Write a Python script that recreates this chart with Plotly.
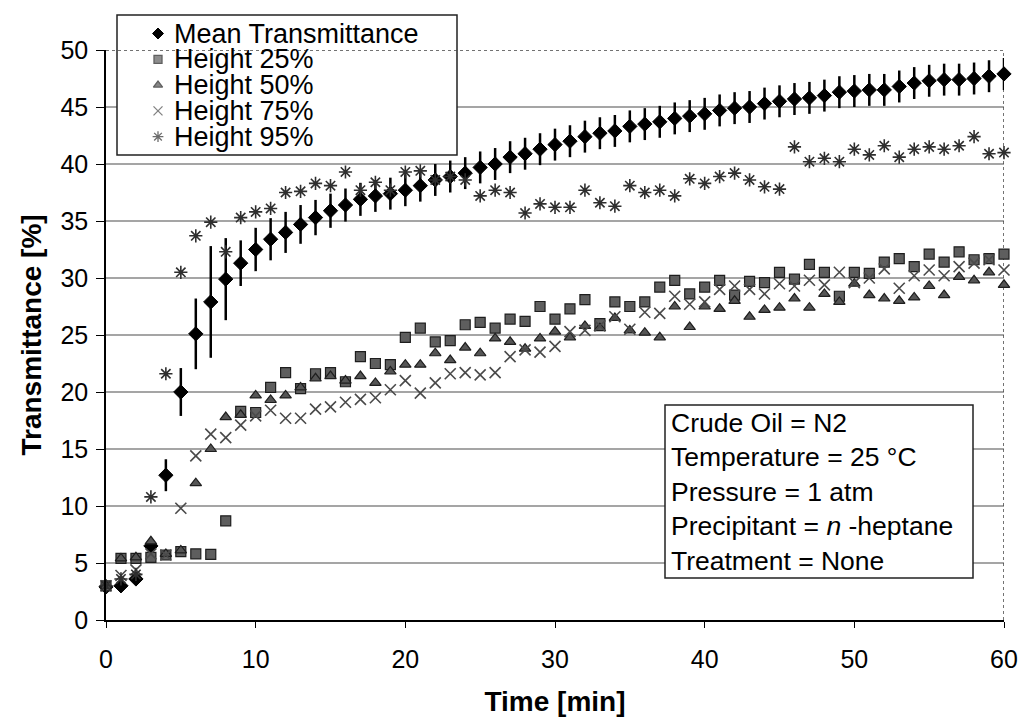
import plotly.graph_objects as go

# ---------------- data ----------------
time_min = list(range(61))

mean_trans = [2.9, 3.0, 3.6, 6.5, 12.7, 20.0, 25.1, 27.9, 29.9, 31.3,
              32.5, 33.4, 34.0, 34.7, 35.3, 35.9, 36.4, 36.9, 37.2, 37.4,
              37.7, 38.1, 38.6, 38.9, 39.2, 39.7, 40.0, 40.6, 40.9, 41.3,
              41.7, 42.0, 42.4, 42.7, 42.9, 43.3, 43.5, 43.7, 44.0, 44.2,
              44.4, 44.7, 44.9, 45.0, 45.3, 45.5, 45.7, 45.8, 46.0, 46.3,
              46.4, 46.5, 46.5, 46.8, 47.1, 47.3, 47.4, 47.4, 47.5, 47.7,
              47.9]

mean_err = [0.3, 0.3, 0.4, 0.7, 1.4, 2.1, 3.1, 4.9, 3.6, 2.0,
            1.9, 1.85, 1.8, 1.7, 1.55, 1.5, 1.45, 1.45, 1.4, 1.4,
            1.4, 1.4, 1.4, 1.4, 1.4, 1.4, 1.4, 1.4, 1.4, 1.4,
            1.4, 1.4, 1.4, 1.4, 1.4, 1.4, 1.4, 1.4, 1.4, 1.4,
            1.4, 1.4, 1.4, 1.4, 1.4, 1.4, 1.4, 1.4, 1.4, 1.4,
            1.4, 1.4, 1.4, 1.4, 1.4, 1.4, 1.4, 1.4, 1.4, 1.4,
            1.4]

height_25 = [3.0, 5.4, 5.4, 5.5, 5.7, 6.0, 5.8, 5.75, 8.7, 18.3,
             18.2, 20.4, 21.7, 20.3, 21.6, 21.7, 20.9, 23.1, 22.5, 22.4,
             24.8, 25.6, 24.4, 24.5, 25.9, 26.1, 25.6, 26.4, 26.2, 27.5,
             26.4, 27.3, 28.1, 26.0, 27.9, 27.5, 27.9, 29.2, 29.8, 28.6,
             29.2, 29.8, 28.5, 29.7, 29.6, 30.5, 29.9, 31.2, 30.5, 28.4,
             30.5, 30.4, 31.4, 31.7, 31.0, 32.1, 31.4, 32.3, 31.6, 31.7,
             32.1]

height_50 = [3.0, 5.4, 5.5, 6.9, 5.8, 6.1, 12.0, 15.0, 17.8, 18.0,
             19.7, 19.3, 19.7, 20.4, 21.2, 21.4, 21.0, 21.4, 20.8, 21.8,
             22.4, 22.4, 23.4, 22.8, 23.9, 23.4, 24.7, 24.4, 23.8, 24.7,
             25.3, 24.8, 25.8, 25.6, 26.5, 25.4, 25.2, 24.8, 27.5, 25.7,
             27.5, 27.3, 28.0, 26.6, 27.2, 27.4, 28.2, 27.4, 28.6, 27.9,
             29.5, 28.5, 28.2, 28.0, 28.3, 29.3, 28.5, 30.1, 29.8, 30.5,
             29.4]

height_75 = [3.0, 3.9, 4.4, 5.8, 5.7, 9.8, 14.4, 16.3, 16.0, 17.1,
             17.9, 18.4, 17.7, 17.7, 18.5, 18.7, 19.1, 19.35, 19.5, 20.2,
             21.0, 19.9, 20.8, 21.6, 21.7, 21.5, 21.7, 23.1, 23.7, 23.5,
             24.0, 25.3, 25.4, 25.8, 26.6, 25.5, 27.0, 26.9, 28.4, 27.7,
             27.9, 29.0, 29.3, 29.0, 28.6, 29.5, 29.3, 29.8, 29.4, 30.5,
             29.6, 30.0, 30.8, 29.1, 30.2, 30.7, 30.2, 31.0, 31.3, 31.6,
             30.7]

height_95 = [3.0, 3.6, 4.0, 10.8, 21.6, 30.5, 33.7, 34.9, 32.3, 35.3,
             35.8, 36.1, 37.5, 37.6, 38.3, 38.1, 39.3, 37.7, 38.4, 37.7,
             39.3, 39.4, 38.6, 38.9, 38.6, 37.2, 37.7, 37.5, 35.7, 36.5,
             36.2, 36.2, 37.7, 36.6, 36.3, 38.1, 37.5, 37.7, 37.2, 38.7,
             38.3, 38.9, 39.2, 38.6, 38.0, 37.8, 41.5, 40.2, 40.5, 40.2,
             41.3, 40.8, 41.6, 40.6, 41.3, 41.5, 41.3, 41.6, 42.4, 40.9,
             41.0]

legend_labels = ["Mean Transmittance", "Height 25%", "Height 50%",
                 "Height 75%", "Height 95%"]
info_lines = ["Crude Oil = N2", "Temperature = 25 °C", "Pressure = 1 atm",
              "Precipitant = <i>n</i> -heptane", "Treatment = None"]
y_ticks = [0, 5, 10, 15, 20, 25, 30, 35, 40, 45, 50]
x_ticks = [0, 10, 20, 30, 40, 50, 60]
x_range = [0, 60]
y_range = [0, 50]

# ---------------- layout helpers ----------------
W, H = 1022, 719
ML, MR, MT, MB = 106, 18, 50, 99
PW, PH = W - ML - MR, H - MT - MB
FONT = "Liberation Sans, Arial, sans-serif"


def fx(px):
    """page pixel -> paper x"""
    return (px - ML) / PW


def fy(py):
    """page pixel -> paper y"""
    return (H - MB - py) / PH


def dx(px):
    """page pixel -> x data units"""
    return x_range[0] + fx(px) * (x_range[1] - x_range[0])


styles = [
    dict(symbol="diamond", size=11, color="black", line=dict(color="black", width=1)),
    dict(symbol="square", size=10, color="#5e5e5e", line=dict(color="#1e1e1e", width=1.2)),
    dict(symbol="triangle-up", size=10, color="#555555", line=dict(color="#1e1e1e", width=1.2)),
    dict(symbol="x-thin-open", size=11, color="#4a4a4a", line=dict(color="#4a4a4a", width=1.6)),
    dict(symbol="asterisk-open", size=11, color="#2e2e2e", line=dict(color="#2e2e2e", width=1.6)),
]
series = [mean_trans, height_25, height_50, height_75, height_95]

fig = go.Figure()

# mean with error bars
fig.add_trace(go.Scatter(
    x=time_min, y=mean_trans, mode="markers", name=legend_labels[0],
    marker=styles[0], showlegend=False, cliponaxis=False,
    error_y=dict(type="data", array=mean_err, visible=True,
                 color="black", thickness=2.5, width=0)))

for lab, ys, st in zip(legend_labels[1:], series[1:], styles[1:]):
    fig.add_trace(go.Scatter(x=time_min, y=ys, mode="markers", name=lab,
                             marker=st, showlegend=False, cliponaxis=False))

# ---------------- manual legend ----------------
leg_x0, leg_x1, leg_y0, leg_y1 = 117, 457, 15, 155
row_y = [33.5 + 25.8 * i for i in range(5)]
leg_marker_px = 158
leg_text_px = 172

shapes = []
# horizontal gridlines
for v in y_ticks[1:-1]:
    shapes.append(dict(type="line", xref="paper", yref="y", x0=0, x1=1, y0=v, y1=v,
                       line=dict(color="#4d4d4d", width=1.2), layer="below"))
# dotted top and right border
shapes.append(dict(type="line", xref="x", yref="y", x0=x_range[0], x1=x_range[1],
                   y0=y_range[1], y1=y_range[1],
                   line=dict(color="#444", width=1.5, dash="dot"), layer="below"))
shapes.append(dict(type="line", xref="x", yref="y", x0=x_range[1], x1=x_range[1],
                   y0=y_range[0], y1=y_range[1],
                   line=dict(color="#444", width=1.5, dash="dot"), layer="below"))
# legend box (x in data units so it sits in the subplot layer, under the markers)
shapes.append(dict(type="rect", xref="x", yref="paper",
                   x0=dx(leg_x0), x1=dx(leg_x1), y0=fy(leg_y1), y1=fy(leg_y0),
                   fillcolor="white", line=dict(color="#222", width=1.5), layer="below"))
# info box
shapes.append(dict(type="rect", xref="x", yref="paper",
                   x0=dx(665), x1=dx(973), y0=fy(578), y1=fy(405),
                   fillcolor="white", line=dict(color="#222", width=1.5), layer="below"))
# legend diamond symbol for the first row (sits above the plot area)
hx, hy = 5.5 / PW, 5.5 / PH
cx, cy = fx(leg_marker_px), fy(row_y[0])
shapes.append(dict(type="path", xref="paper", yref="paper",
                   path=f"M {cx},{cy + hy} L {cx + hx},{cy} L {cx},{cy - hy} L {cx - hx},{cy} Z",
                   fillcolor="black", line=dict(color="black", width=1), layer="above"))

annotations = []
for lab, yy in zip(legend_labels, row_y):
    annotations.append(dict(text=lab, xref="paper", yref="paper",
                            x=fx(leg_text_px), y=fy(yy), xanchor="left", yanchor="middle",
                            showarrow=False, font=dict(family=FONT, size=27, color="black")))
annotations.append(dict(text="<br>".join(info_lines), xref="paper", yref="paper",
                        x=fx(669), y=fy(491.5), xanchor="left", yanchor="middle",
                        align="left", showarrow=False,
                        font=dict(family=FONT, size=26.5, color="black")))

# legend symbols for the height series on an overlay axis in paper units
fig.add_trace(go.Scatter(
    x=[fx(leg_marker_px)] * 4, y=[fy(v) for v in row_y[1:]],
    xaxis="x2", yaxis="y2", mode="markers", showlegend=False, cliponaxis=False,
    hoverinfo="skip",
    marker=dict(symbol=[s["symbol"] for s in styles[1:]], size=[8, 8, 9, 9],
                color=[s["color"] for s in styles[1:]],
                line=dict(color=[s["line"]["color"] for s in styles[1:]], width=1.3))))

fig.update_layout(
    width=W, height=H,
    margin=dict(l=ML, r=MR, t=MT, b=MB, autoexpand=False),
    paper_bgcolor="white", plot_bgcolor="white",
    showlegend=False,
    font=dict(family=FONT, color="black"),
    xaxis=dict(range=x_range, tickvals=x_ticks, showgrid=False, zeroline=False,
               showline=True, linecolor="black", linewidth=1.5,
               ticks="outside", ticklen=6, tickwidth=1.2, tickcolor="black",
               ticklabelstandoff=10,
               tickfont=dict(family=FONT, size=25, color="black"),
               title=dict(text="<b>Time [min]</b>", standoff=20,
                          font=dict(family=FONT, size=28, color="black")),
               automargin=False),
    yaxis=dict(range=y_range, tickvals=y_ticks, showgrid=False, zeroline=False,
               showline=True, linecolor="black", linewidth=1.5,
               ticks="outside", ticklen=8, tickwidth=1.2, tickcolor="black",
               ticklabelstandoff=3,
               tickfont=dict(family=FONT, size=25, color="black"),
               title=dict(text="<b>Transmittance [%]</b>", standoff=11,
                          font=dict(family=FONT, size=28, color="black")),
               automargin=False),
    xaxis2=dict(overlaying="x", range=[0, 1], visible=False, fixedrange=True),
    yaxis2=dict(overlaying="y", range=[0, 1], visible=False, fixedrange=True),
    shapes=shapes,
    annotations=annotations,
)

fig.write_html("out.html", config={"displayModeBar": False},
               post_script="document.body.style.margin='0px';")
